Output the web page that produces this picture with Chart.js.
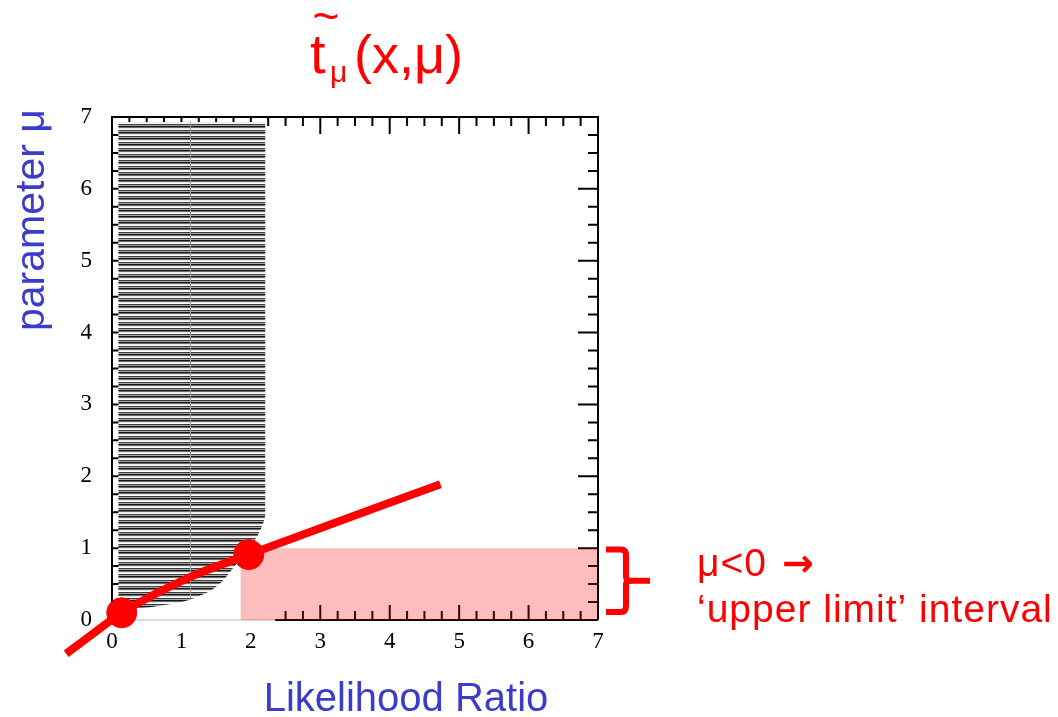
<!DOCTYPE html>
<html>
<head>
<meta charset="utf-8">
<script src="https://cdn.jsdelivr.net/npm/chart.js@4.4.0/dist/chart.umd.min.js"></script>
<style>
html, body { margin: 0; padding: 0; background: #fff; }
canvas { display: block; }
</style>
</head>
<body>
<canvas id="myChart" width="1058" height="717"></canvas>
<script>
// values (x = likelihood ratio, mu = parameter)
const xTicks = [0, 1, 2, 3, 4, 5, 6, 7];
const muTicks = [0, 1, 2, 3, 4, 5, 6, 7];

const curveX  = [-0.66, -0.26, 0.14, 1.13, 1.97, 4.73];
const curveMu = [-0.47, -0.18, 0.10, 0.60, 0.91, 1.89];

const dotX  = [0.14, 1.97];
const dotMu = [0.10, 0.91];

// lower edge of the hatched acceptance region, filled up to the top
const hatchX  = [0.09, 0.22, 0.45, 0.70, 0.95, 1.17, 1.42, 1.60, 1.75, 1.90, 2.05, 2.14, 2.20, 2.21, 2.21];
const hatchMu = [0.16, 0.16, 0.17, 0.20, 0.24, 0.30, 0.41, 0.55, 0.73, 0.92, 1.10, 1.26, 1.42, 1.56, 6.93];
const hatchTop = 6.93;

const seamX  = [1.13, 1.13];
const seamMu = [0.30, 6.93];

const bandX  = [1.85, 7];
const bandMu = [1, 1];

const red = '#ff0000';
const blue = '#3c3ccc';

function pts(xs, ys) {
    return xs.map((x, i) => ({x: x, y: ys[i]}));
}

function hatchPattern() {
    const c = document.createElement('canvas');
    c.width = 4;
    c.height = 6;
    const g = c.getContext('2d');
    const rows = ['#151515', '#6e6e6e', '#e6e6e6', '#ffffff', '#3c3c3c', '#a8a8a8'];
    rows.forEach((col, i) => {
        g.fillStyle = col;
        g.fillRect(0, i, 4, 1);
    });
    return g.createPattern(c, 'repeat');
}

// frame and inward ticks, drawn under the datasets
const framePlugin = {
    id: 'frame',
    beforeDatasetsDraw(chart) {
        const ctx = chart.ctx;
        const xs = chart.scales.x, ys = chart.scales.y;
        const a = chart.chartArea;
        ctx.save();
        ctx.strokeStyle = '#000';
        ctx.lineWidth = 2;
        ctx.beginPath();
        ctx.moveTo(a.left, a.top);
        ctx.lineTo(a.right, a.top);
        ctx.lineTo(a.right, a.bottom);
        ctx.moveTo(xs.getPixelForValue(2.35), a.bottom);
        ctx.lineTo(a.right, a.bottom);
        ctx.stroke();

        ctx.lineWidth = 2;
        ctx.beginPath();
        for (let v = 0.25; v < 7; v += 0.25) {
            const major = Math.abs(v - Math.round(v)) < 1e-6;
            const px = xs.getPixelForValue(v);
            const py = ys.getPixelForValue(v);
            // top
            ctx.moveTo(px, a.top);
            ctx.lineTo(px, a.top + (major ? 17 : 9));
            // bottom (only right part survived in the original)
            if (v >= 2.5) {
                ctx.moveTo(px, a.bottom);
                ctx.lineTo(px, a.bottom - (major ? 15 : 9));
            }
            // right
            ctx.moveTo(a.right, py);
            ctx.lineTo(a.right - (major ? 20 : 10), py);
            // left
            ctx.moveTo(a.left, py);
            ctx.lineTo(a.left + 7, py);
        }
        ctx.stroke();
        ctx.restore();
    }
};

// titles and annotation
const textPlugin = {
    id: 'texts',
    afterDraw(chart) {
        const ctx = chart.ctx;
        const ys = chart.scales.y;
        ctx.save();

        // title  t~_mu(x,mu)
        ctx.fillStyle = red;
        ctx.textBaseline = 'alphabetic';
        ctx.textAlign = 'left';
        ctx.font = '56px "Liberation Sans"';
        ctx.fillText('t', 310, 73);
        ctx.font = '30px "Liberation Sans"';
        ctx.fillText('\u03bc', 330, 82);
        ctx.font = '54px "Liberation Sans"';
        ctx.fillText('(x,\u03bc)', 354, 73);
        ctx.font = '46px "Liberation Sans"';
        ctx.textAlign = 'center';
        ctx.fillText('~', 326, 32);

        // axis titles
        ctx.fillStyle = blue;
        ctx.font = '40px "Liberation Sans"';
        ctx.textAlign = 'center';
        ctx.fillText('Likelihood Ratio', 406, 711);

        ctx.save();
        ctx.translate(44, 331);
        ctx.rotate(-Math.PI / 2);
        ctx.textAlign = 'left';
        ctx.font = '41px "Liberation Sans"';
        ctx.fillText('parameter \u03bc', 0, 0);
        ctx.restore();

        // brace next to the mu<0 band
        const yTop = ys.getPixelForValue(0.98);
        const yBot = ys.getPixelForValue(0.11);
        const yMid = (yTop + yBot) / 2;
        ctx.strokeStyle = red;
        ctx.lineWidth = 6;
        ctx.lineJoin = 'round';
        ctx.lineCap = 'butt';
        ctx.beginPath();
        ctx.moveTo(606, yTop);
        ctx.lineTo(621, yTop);
        ctx.quadraticCurveTo(626, yTop, 626, yTop + 6);
        ctx.lineTo(626, yMid - 4);
        ctx.quadraticCurveTo(626, yMid, 632, yMid);
        ctx.lineTo(650, yMid);
        ctx.moveTo(632, yMid);
        ctx.quadraticCurveTo(626, yMid, 626, yMid + 4);
        ctx.lineTo(626, yBot - 6);
        ctx.quadraticCurveTo(626, yBot, 621, yBot);
        ctx.lineTo(606, yBot);
        ctx.stroke();

        ctx.fillStyle = red;
        ctx.textAlign = 'left';
        ctx.font = '39px "Liberation Sans"';
        ctx.letterSpacing = '1px';
        ctx.fillText('\u03bc<0', 697, 576);
        ctx.fillText('\u2018upper limit\u2019 interval', 697, 622);
        ctx.letterSpacing = '0px';
        ctx.font = 'bold 38px "DejaVu Sans"';
        ctx.fillText('\u2192', 782, 576);

        ctx.restore();
    }
};

const data = {
    datasets: [
        {
            label: 'curve',
            data: pts(curveX, curveMu),
            showLine: true,
            borderColor: red,
            borderWidth: 8,
            borderCapStyle: 'butt',
            cubicInterpolationMode: 'monotone',
            pointRadius: 0,
            fill: false,
            clip: false,
            order: 1
        },
        {
            label: 'dots',
            data: pts(dotX, dotMu),
            showLine: false,
            backgroundColor: red,
            borderColor: red,
            pointRadius: 15,
            clip: false,
            order: 0
        },
        {
            label: 'seam',
            data: pts(seamX, seamMu),
            showLine: true,
            borderColor: '#9a9a9a',
            borderWidth: 1,
            pointRadius: 0,
            order: 2
        },
        {
            label: 'hatch',
            data: pts(hatchX, hatchMu),
            showLine: true,
            borderWidth: 0,
            borderColor: 'rgba(0,0,0,0)',
            backgroundColor: hatchPattern(),
            tension: 0.3,
            pointRadius: 0,
            fill: {value: hatchTop},
            order: 3
        },
        {
            label: 'band',
            data: pts(bandX, bandMu),
            showLine: true,
            borderWidth: 0,
            borderColor: 'rgba(0,0,0,0)',
            backgroundColor: 'rgba(250,0,0,0.26)',
            pointRadius: 0,
            fill: 'origin',
            order: 4
        }
    ]
};

const tickFont = {family: '"Liberation Serif", "Times New Roman", serif', size: 23};

const config = {
    type: 'scatter',
    data: data,
    options: {
        responsive: false,
        animation: false,
        layout: {padding: {top: 117, right: 460, left: 0, bottom: 0}},
        plugins: {
            legend: {display: false},
            tooltip: {enabled: false},
            title: {display: false}
        },
        scales: {
            x: {
                type: 'linear',
                // range set after data limits so points outside 0..7 are still drawn
                afterDataLimits(s) { s.min = 0; s.max = 7; },
                afterFit(s) { s.height = 97; },
                afterBuildTicks(s) { s.ticks = xTicks.map(v => ({value: v})); },
                ticks: {font: tickFont, color: '#000', padding: 8},
                grid: {display: false, drawTicks: false},
                border: {display: true, color: '#dcdcdc', width: 2}
            },
            y: {
                type: 'linear',
                afterDataLimits(s) { s.min = 0; s.max = 7; },
                afterFit(s) { s.width = 112; },
                afterBuildTicks(s) { s.ticks = muTicks.map(v => ({value: v})); },
                ticks: {font: tickFont, color: '#000', padding: 20},
                grid: {display: false, drawTicks: false},
                border: {display: true, color: '#000', width: 2}
            }
        }
    },
    plugins: [framePlugin, textPlugin]
};

const myChart = new Chart(document.getElementById('myChart').getContext('2d'), config);
</script>
</body>
</html>
